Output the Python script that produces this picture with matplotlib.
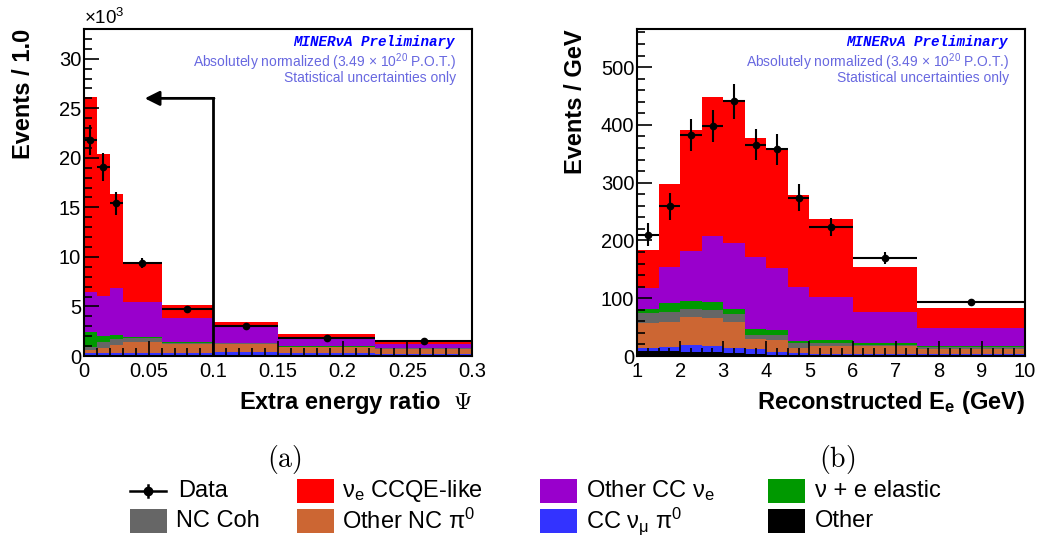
import matplotlib
matplotlib.use("Agg")
import matplotlib.pyplot as plt
from matplotlib import font_manager
from matplotlib.patches import Rectangle
from matplotlib.lines import Line2D
from matplotlib.ticker import MultipleLocator
import numpy as np

installed = {f.name for f in font_manager.fontManager.ttflist}
narrow = "Liberation Sans Narrow" if "Liberation Sans Narrow" in installed else "Liberation Sans"

plt.rcParams["font.family"] = ["Liberation Sans", "DejaVu Sans"]
plt.rcParams["mathtext.fontset"] = "custom"
plt.rcParams["mathtext.rm"] = "Liberation Sans"
plt.rcParams["mathtext.it"] = "Liberation Sans:italic"
plt.rcParams["mathtext.bf"] = "Liberation Sans:bold"

# ---- panel (a): extra energy ratio, events in units of 10^3
psi_edges = [0, 0.01, 0.02, 0.03, 0.06, 0.1, 0.15, 0.225, 0.3]
psi_other = [0.08, 0.08, 0.08, 0.07, 0.06, 0.05, 0.04, 0.03]
psi_ccnumu_pi0 = [0.22, 0.22, 0.24, 0.23, 0.29, 0.35, 0.28, 0.19]
psi_nc_pi0 = [0.30, 0.47, 0.83, 1.10, 0.90, 0.80, 0.61, 0.52]
psi_nc_coh = [0.35, 0.68, 0.55, 0.40, 0.08, 0.08, 0.02, 0.02]
psi_nue_elastic = [1.50, 0.55, 0.37, 0.12, 0.07, 0.05, 0.03, 0.02]
psi_other_ccnue = [4.05, 4.10, 4.83, 3.58, 2.45, 1.67, 0.87, 0.47]
psi_ccqe = [19.6, 14.3, 9.4, 3.9, 1.25, 0.46, 0.40, 0.30]
psi_data_x = [0.005, 0.015, 0.025, 0.045, 0.08, 0.125, 0.1875, 0.2625]
psi_data_y = [21.8, 19.1, 15.4, 9.4, 4.74, 3.06, 1.85, 1.48]
psi_data_err = [1.5, 1.4, 1.2, 0.5, 0.35, 0.2, 0.15, 0.12]
psi_cut = 0.1

# ---- panel (b): reconstructed electron energy, events / GeV
ee_edges = [1, 1.5, 2, 2.5, 3, 3.5, 4, 4.5, 5, 6, 7.5, 10]
ee_other = [9, 8, 7.5, 7, 4.6, 3.5, 2.5, 2, 2, 2, 2]
ee_ccnumu_pi0 = [5.4, 8, 11.5, 11, 9.8, 8, 5, 2.6, 2, 1.5, 1.5]
ee_nc_pi0 = [42.6, 43, 48, 47, 44.6, 17.9, 20.1, 9.2, 13.3, 13.2, 8]
ee_nc_coh = [17, 18, 14, 14.5, 13.5, 6.3, 9.4, 8.2, 4.7, 2.9, 3.5]
ee_nue_elastic = [7, 14.5, 13.5, 13.5, 8, 10.3, 8, 4, 5.6, 2.9, 1.7]
ee_other_ccnue = [36.5, 62.5, 86.5, 115, 114.5, 125, 108, 93, 74.4, 53.5, 31.3]
ee_ccqe = [65.5, 143, 211, 240, 244, 206, 205, 160, 135, 78, 35.5]
ee_data_x = [1.26, 1.76, 2.26, 2.76, 3.26, 3.76, 4.25, 4.76, 5.5, 6.76, 8.74]
ee_data_y = [210, 259, 382, 398, 441, 366, 358, 274, 223, 170, 93]
ee_data_err = [20, 23, 28, 28, 30, 27, 27, 23, 15, 10, 4]

labels = [r"ν$_{\mathrm{e}}$ CCQE-like", r"Other CC ν$_{\mathrm{e}}$", "ν + e elastic",
          "NC Coh", r"Other NC π$^{0}$", r"CC ν$_{\mathrm{μ}}$ π$^{0}$", "Other"]
colors = {"ccqe": "#ff0000", "other_ccnue": "#9900cc", "nue_elastic": "#009900",
          "nc_coh": "#666666", "nc_pi0": "#cc6633", "ccnumu_pi0": "#3333ff", "other": "#000000"}


def draw_stack(ax, edges, comps):
    edges = np.asarray(edges)
    widths = np.diff(edges)
    bottom = np.zeros(len(widths))
    for vals, col in comps:
        ax.bar(edges[:-1], vals, width=widths, bottom=bottom, align="edge",
               color=col, linewidth=0, antialiased=False)
        bottom = bottom + np.asarray(vals)


def draw_data(ax, edges, x, y, err):
    edges = np.asarray(edges)
    x = np.asarray(x)
    xerr = [x - edges[:-1], edges[1:] - x]
    ax.errorbar(x, y, xerr=xerr, yerr=err, fmt="o", color="k", ms=4.5,
                lw=1.5, capsize=0, zorder=5)


def style(ax):
    for s in ax.spines.values():
        s.set_linewidth(1.5)
    ax.tick_params(which="both", direction="in", top=False, right=False,
                   labelsize=14.5, width=1.2)
    ax.tick_params(which="major", length=11)
    ax.tick_params(which="minor", length=5.5)
    ax.tick_params(axis="y", pad=2)
    ax.tick_params(axis="x", pad=4)
    ax.text(0.956, 0.960, "MINERνA Preliminary", transform=ax.transAxes,
            ha="right", va="center", color="#0000ff", fontsize=10.3,
            family="Liberation Mono", weight="bold", style="italic")
    ax.text(0.959, 0.899, r"Absolutely normalized (3.49 $\times$ 10$^{20}$ P.O.T.)",
            transform=ax.transAxes, ha="right", va="center", color="#6868e0", fontsize=10)
    ax.text(0.959, 0.850, "Statistical uncertainties only", transform=ax.transAxes,
            ha="right", va="center", color="#6868e0", fontsize=10)


fig = plt.figure(figsize=(10.37, 5.37), dpi=100)
ax1 = fig.add_axes([84 / 1037, 1 - 356 / 537, 388 / 1037, 327 / 537])
ax2 = fig.add_axes([637 / 1037, 1 - 356 / 537, 388 / 1037, 327 / 537])

draw_stack(ax1, psi_edges, [(psi_other, colors["other"]), (psi_ccnumu_pi0, colors["ccnumu_pi0"]),
                            (psi_nc_pi0, colors["nc_pi0"]), (psi_nc_coh, colors["nc_coh"]),
                            (psi_nue_elastic, colors["nue_elastic"]),
                            (psi_other_ccnue, colors["other_ccnue"]), (psi_ccqe, colors["ccqe"])])
draw_data(ax1, psi_edges, psi_data_x, psi_data_y, psi_data_err)
ax1.plot([psi_cut, psi_cut], [0, 26.0], color="k", lw=2, zorder=6)
ax1.annotate("", xy=(0.047, 26.0), xytext=(psi_cut + 0.0005, 26.0),
             arrowprops=dict(arrowstyle="-|>", lw=2, color="k", mutation_scale=22,
                             shrinkA=0, shrinkB=0), zorder=6)
ax1.set_xlim(0, 0.3)
ax1.set_ylim(0, 33)
ax1.xaxis.set_major_locator(MultipleLocator(0.05))
ax1.xaxis.set_minor_locator(MultipleLocator(0.01))
ax1.yaxis.set_major_locator(MultipleLocator(5))
ax1.yaxis.set_minor_locator(MultipleLocator(1))
ax1.set_xticks([0, 0.05, 0.1, 0.15, 0.2, 0.25, 0.3], ["0", "0.05", "0.1", "0.15", "0.2", "0.25", "0.3"])
ax1.set_ylabel("Events / 1.0", fontsize=17, weight="bold", loc="top")
ax1.yaxis.set_label_coords(-0.127, 1.0)
ax1.set_xlabel(r"Extra energy ratio  $\Psi$", fontsize=17, weight="bold", loc="right",
               math_fontfamily="cm")
ax1.xaxis.set_label_coords(1.0, -0.1)
style(ax1)
fig.text(84 / 1037, 1 - 28 / 537, r"$\times$10$^{3}$", fontsize=13.5, ha="left", va="bottom")

draw_stack(ax2, ee_edges, [(ee_other, colors["other"]), (ee_ccnumu_pi0, colors["ccnumu_pi0"]),
                           (ee_nc_pi0, colors["nc_pi0"]), (ee_nc_coh, colors["nc_coh"]),
                           (ee_nue_elastic, colors["nue_elastic"]),
                           (ee_other_ccnue, colors["other_ccnue"]), (ee_ccqe, colors["ccqe"])])
draw_data(ax2, ee_edges, ee_data_x, ee_data_y, ee_data_err)
ax2.set_xlim(1, 10)
ax2.set_ylim(0, 566)
ax2.xaxis.set_major_locator(MultipleLocator(1))
ax2.xaxis.set_minor_locator(MultipleLocator(0.25))
ax2.yaxis.set_major_locator(MultipleLocator(100))
ax2.yaxis.set_minor_locator(MultipleLocator(20))
ax2.set_ylabel("Events / GeV", fontsize=17, weight="bold", loc="top")
ax2.yaxis.set_label_coords(-0.13, 1.0)
ax2.set_xlabel(r"Reconstructed E$_{\mathbf{e}}$ (GeV)", fontsize=17, weight="bold", loc="right")
ax2.xaxis.set_label_coords(1.0, -0.1)
style(ax2)

fig.text(284 / 1037, 1 - 459 / 537, r"$\mathrm{(a)}$", fontsize=20, ha="center", va="center",
         math_fontfamily="cm")
fig.text(837 / 1037, 1 - 459 / 537, r"$\mathrm{(b)}$", fontsize=20, ha="center", va="center",
         math_fontfamily="cm")

# legend, drawn by hand in figure pixels
def fx(px):
    return px / 1037


def fy(py):
    return 1 - py / 537


leg_font = dict(fontsize=17, family=[narrow, "Liberation Sans", "DejaVu Sans"], va="center", ha="left")
row_y = [491, 521]
col_patch = [130, 297, 540, 768]
col_text = [176, 342, 586, 815]
entries = [(0, 1, colors["ccqe"], labels[0]), (0, 2, colors["other_ccnue"], labels[1]),
           (0, 3, colors["nue_elastic"], labels[2]), (1, 0, colors["nc_coh"], labels[3]),
           (1, 1, colors["nc_pi0"], labels[4]), (1, 2, colors["ccnumu_pi0"], labels[5]),
           (1, 3, colors["other"], labels[6])]
for r, c, col, lab in entries:
    fig.patches.append(Rectangle((fx(col_patch[c]), fy(row_y[r] + 12)), 37 / 1037, 24 / 537,
                                 transform=fig.transFigure, facecolor=col, edgecolor="none"))
    fig.text(fx(col_text[c]), fy(row_y[r]), lab, **leg_font)

fig.lines.append(Line2D([fx(130), fx(166)], [fy(row_y[0]), fy(row_y[0])], color="k", lw=1.8,
                        transform=fig.transFigure))
fig.lines.append(Line2D([fx(148), fx(148)], [fy(row_y[0] - 6), fy(row_y[0] + 6)], color="k", lw=1.8,
                        transform=fig.transFigure))
fig.lines.append(Line2D([fx(148)], [fy(row_y[0])], color="k", marker="o", ms=6,
                        transform=fig.transFigure))
fig.text(fx(178), fy(row_y[0]), "Data", **leg_font)

fig.savefig("out.png", dpi=100)
